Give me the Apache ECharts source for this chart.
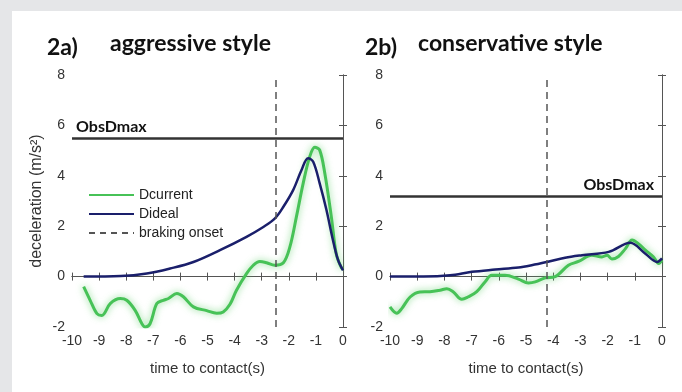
<!DOCTYPE html>
<html>
<head>
<meta charset="utf-8">
<script src="https://cdn.jsdelivr.net/npm/echarts@6/dist/echarts.min.js"></script>
<style>
html,body{margin:0;padding:0;background:#e5e6e8;}
#c{width:682px;height:392px;}
</style>
</head>
<body>
<div id="c"></div>
<script>
// ---- data ----
const titles = ["aggressive style", "conservative style"];
const panelTags = ["2a)", "2b)"];
const xTicks = [-10, 0, 1];           // min, max, interval
const yTicks = [-2, 8, 2];            // min, max, interval
const legendNames = ["Dcurrent", "Dideal", "braking onset"];

const aCurrentT = [-9.57,-9.33,-9.08,-8.9,-8.59,-8.22,-7.98,-7.67,-7.42,-7.3,-7.12,-6.87,-6.63,-6.44,-6.13,-5.89,-5.52,-5.03,-4.66,-4.42,-4.17,-3.93,-3.56,-3.31,-3.07,-2.82,-2.52,-2.2,-1.96,-1.72,-1.47,-1.23,-1.04,-0.86,-0.67,-0.43,-0.25,-0.06,0];
const aCurrentD = [-0.4,-0.94,-1.47,-1.54,-1.07,-0.87,-0.94,-1.34,-1.87,-2.0,-1.87,-1.07,-0.94,-0.87,-0.67,-0.8,-1.2,-1.35,-1.45,-1.4,-1.1,-0.54,0.12,0.45,0.6,0.55,0.45,0.55,1.18,2.37,3.7,4.75,5.13,5.02,4.09,2.37,0.91,0.35,0.3];
const aIdealT = [-9.57,-8.2,-7.24,-6.38,-5.52,-4.54,-3.56,-2.94,-2.52,-2.2,-1.84,-1.53,-1.29,-1.1,-0.86,-0.61,-0.37,-0.18,0];
const aIdealD = [0,0.02,0.12,0.32,0.58,1.05,1.58,1.97,2.3,2.77,3.43,4.23,4.7,4.56,3.7,2.64,1.44,0.65,0.25];

const bCurrentT = [-10,-9.75,-9.57,-9.26,-8.9,-8.53,-8.16,-7.91,-7.67,-7.36,-7.12,-6.81,-6.5,-6.26,-5.77,-5.28,-4.91,-4.66,-4.29,-3.93,-3.44,-3.07,-2.58,-2.21,-2.02,-1.84,-1.6,-1.35,-1.1,-0.86,-0.61,-0.31,-0.12,0];
const bCurrentD = [-1.2,-1.45,-1.27,-0.81,-0.61,-0.6,-0.54,-0.48,-0.61,-0.9,-0.8,-0.6,-0.2,0.05,0.05,-0.1,-0.25,-0.21,-0.05,0.0,0.45,0.6,0.85,0.78,0.85,0.7,0.8,1.1,1.45,1.3,1.05,0.78,0.52,0.65];
const bIdealT = [-10,-8.77,-7.79,-6.99,-6.13,-5.28,-4.79,-4.23,-3.56,-2.94,-1.96,-1.17,-0.61,-0.18,0];
const bIdealD = [0,0.0,0.05,0.19,0.28,0.36,0.45,0.58,0.75,0.85,0.98,1.34,0.91,0.58,0.72];

const obsDmax = [5.5, 3.2];
const brakingOnset = [-2.5, -4.25];

// ---- chart ----
const zip = (t, d) => t.map((v, i) => [v, d[i]]);
const AX = '#555';
const FONT = "'Liberation Sans', Arial, sans-serif";
const TFONT = "Lato, 'Open Sans', sans-serif";
const grids = [
  {left: 72, top: 75, width: 271, height: 252},
  {left: 390, top: 75, width: 272, height: 252}
];
const xAxes = [], yAxes = [];
[0, 1].forEach(g => {
  xAxes.push({
    type: 'value', gridIndex: g, min: xTicks[0], max: xTicks[1], interval: xTicks[2],
    axisLine: {show: true, lineStyle: {color: AX, width: 1}},
    axisTick: {show: true, inside: true, length: 4, lineStyle: {color: AX}},
    axisLabel: {color: '#333', fontSize: 14, fontFamily: FONT, margin: 7},
    splitLine: {show: false},
    name: 'time to contact(s)', nameLocation: 'middle', nameGap: 34,
    nameTextStyle: {color: '#333', fontSize: 15, fontFamily: FONT}
  });
  yAxes.push({
    type: 'value', gridIndex: g, min: yTicks[0], max: yTicks[1], interval: yTicks[2],
    axisLine: {show: true, lineStyle: {color: AX, width: 1}},
    axisTick: {show: true, inside: true, length: 4, lineStyle: {color: AX}},
    axisLabel: {color: '#333', fontSize: 14, fontFamily: FONT, margin: 7},
    splitLine: {show: false},
    name: g === 0 ? 'deceleration (m/s²)' : '', nameLocation: 'middle', nameGap: 27, nameRotate: 90,
    nameTextStyle: {color: '#333', fontSize: 16, fontFamily: FONT}
  });
});
[0, 1].forEach(g => {
  xAxes.push({
    type: 'value', gridIndex: g, position: 'top', min: xTicks[0], max: xTicks[1], interval: xTicks[2],
    axisLine: {show: true, lineStyle: {color: AX, width: 1}},
    axisTick: {show: true, inside: true, length: 4, lineStyle: {color: AX}},
    axisLabel: {show: false}, splitLine: {show: false}
  });
  yAxes.push({
    type: 'value', gridIndex: g, position: 'right', min: yTicks[0], max: yTicks[1], interval: yTicks[2],
    axisLine: {show: true, lineStyle: {color: AX, width: 1}},
    axisTick: {show: true, inside: true, length: 4, lineStyle: {color: AX}},
    axisLabel: {show: false}, splitLine: {show: false}
  });
});

const green = {color: '#47c257', width: 3, shadowBlur: 7, shadowColor: 'rgba(90,205,100,0.75)'};
const blue = {color: '#1a1f6b', width: 2.5};
const dash = {color: '#555', width: 1.5, type: [6, 5]};

function panelSeries(g, cur, ideal) {
  return [
    {type: 'line', name: legendNames[0], xAxisIndex: g, yAxisIndex: g, data: cur, showSymbol: false, symbol: 'none',
     smooth: 0.35, lineStyle: green, itemStyle: {color: green.color}, z: 3},
    {type: 'line', name: legendNames[1], xAxisIndex: g, yAxisIndex: g, data: ideal, showSymbol: false, symbol: 'none',
     smooth: 0.35, lineStyle: blue, itemStyle: {color: blue.color}, z: 4},
    {type: 'line', name: legendNames[2], xAxisIndex: g, yAxisIndex: g, data: [], symbol: 'none',
     lineStyle: dash, itemStyle: {color: dash.color},
     markLine: {silent: true, symbol: 'none', animation: false, label: {show: false},
       lineStyle: {color: '#555', width: 1.5, type: [7, 5]}, data: [{xAxis: brakingOnset[g]}]}},
    {type: 'line', name: 'ObsDmax', xAxisIndex: g, yAxisIndex: g, data: [], symbol: 'none',
     markLine: {silent: true, symbol: 'none', animation: false,
       lineStyle: {color: '#333', width: 2.5, type: 'solid'},
       label: {show: true, formatter: 'ObsDmax', position: g === 0 ? 'insideStartTop' : 'insideEndTop',
         distance: g === 0 ? [4, 3] : [8, 3],
         color: '#111', fontSize: 16, fontWeight: 'bold', fontFamily: TFONT},
       data: [{yAxis: obsDmax[g]}]}}
  ];
}

const option = {
  animation: false,
  backgroundColor: '#e5e6e8',
  graphic: [
    {type: 'rect', left: 12, top: 11, shape: {width: 670, height: 381}, style: {fill: '#fff'}, z: -10},
    {type: 'text', left: 47, top: 36, style: {text: panelTags[0], font: 'bold 23px ' + TFONT, fill: '#111'}},
    {type: 'text', left: 110, top: 32, style: {text: titles[0], font: 'bold 23px ' + TFONT, fill: '#111'}},
    {type: 'text', left: 365, top: 36, style: {text: panelTags[1], font: 'bold 23px ' + TFONT, fill: '#111'}},
    {type: 'text', left: 418, top: 32, style: {text: titles[1], font: 'bold 23px ' + TFONT, fill: '#111'}}
  ],
  legend: {
    data: legendNames, orient: 'vertical', left: 83, top: 183, itemWidth: 45, itemHeight: 14, itemGap: 5,
    itemStyle: {opacity: 0},
    textStyle: {color: '#222', fontSize: 14, fontFamily: FONT}, selectedMode: false
  },
  grid: grids,
  xAxis: xAxes,
  yAxis: yAxes,
  series: [].concat(
    panelSeries(0, zip(aCurrentT, aCurrentD), zip(aIdealT, aIdealD)),
    panelSeries(1, zip(bCurrentT, bCurrentD), zip(bIdealT, bIdealD))
  )
};
const chart = echarts.init(document.getElementById('c'), null, {renderer: 'canvas'});
chart.setOption(option);
</script>
</body>
</html>
